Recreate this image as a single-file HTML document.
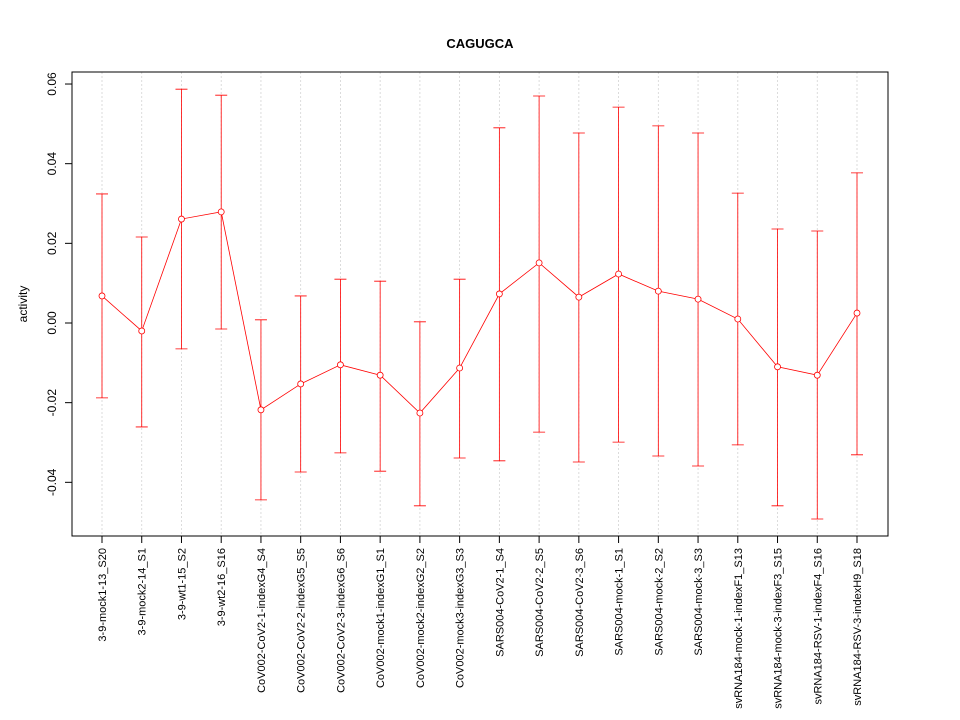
<!DOCTYPE html>
<html><head><meta charset="utf-8"><style>
body{margin:0;background:#fff;}
svg{display:block;font-family:"Liberation Sans",Arial,sans-serif;}
</style></head><body>
<svg id="chart" width="960" height="720">
<rect width="960" height="720" fill="#fff"/>
<text x="480" y="48" text-anchor="middle" font-weight="bold" font-size="13">CAGUGCA</text>
<text transform="translate(27,304) rotate(-90)" text-anchor="middle" font-size="12">activity</text>
<g id="grid"></g><g id="marks"></g><g id="axes"></g>
<rect x="72" y="72" width="816" height="464" fill="none" stroke="#000"/>
</svg>
<script>
const categories=["3-9-mock1-13_S20","3-9-mock2-14_S1","3-9-wt1-15_S2","3-9-wt2-16_S16","CoV002-CoV2-1-indexG4_S4","CoV002-CoV2-2-indexG5_S5","CoV002-CoV2-3-indexG6_S6","CoV002-mock1-indexG1_S1","CoV002-mock2-indexG2_S2","CoV002-mock3-indexG3_S3","SARS004-CoV2-1_S4","SARS004-CoV2-2_S5","SARS004-CoV2-3_S6","SARS004-mock-1_S1","SARS004-mock-2_S2","SARS004-mock-3_S3","svRNA184-mock-1-indexF1_S13","svRNA184-mock-3-indexF3_S15","svRNA184-RSV-1-indexF4_S16","svRNA184-RSV-3-indexH9_S18"];
const means=[0.0068,-0.002,0.0261,0.0279,-0.0218,-0.0153,-0.0105,-0.0131,-0.0226,-0.0113,0.0073,0.0151,0.0065,0.0123,0.0080,0.0060,0.0010,-0.0110,-0.0131,0.0025];
const upper=[0.0324,0.0216,0.0587,0.0572,0.0008,0.0068,0.0110,0.0105,0.0003,0.0110,0.0490,0.0570,0.0477,0.0542,0.0495,0.0477,0.0326,0.0236,0.0231,0.0377];
const lower=[-0.0188,-0.0261,-0.0065,-0.0015,-0.0444,-0.0374,-0.0326,-0.0372,-0.0459,-0.0339,-0.0346,-0.0274,-0.0349,-0.0299,-0.0334,-0.0359,-0.0306,-0.0459,-0.0492,-0.0331];
const yTicks=[-0.04,-0.02,0.00,0.02,0.04,0.06];
const yTickLabels=["-0.04","-0.02","0.00","0.02","0.04","0.06"];
const NS="http://www.w3.org/2000/svg";
function xS(i){return 102+i*(857-102)/(categories.length-1);}
function yS(v){return 323-v*3983;}
function mk(tag,attrs,parent){const e=document.createElementNS(NS,tag);for(const k in attrs)e.setAttribute(k,attrs[k]);document.getElementById(parent).appendChild(e);return e;}
categories.forEach((c,i)=>{
  const x=xS(i);
  const g=mk("line",{x1:x,x2:x,y1:72,y2:536,stroke:"#d3d3d3","stroke-width":"0.8","stroke-dasharray":"2,2"},"grid");
  
  
  const t=mk("line",{x1:x,x2:x,y1:536,y2:543,stroke:"#000"},"axes");
  
  
  const l=mk("text",{transform:`translate(${x+4},548) rotate(-90)`,"text-anchor":"end","font-size":"11"},"axes");
  l.textContent=c;
  
  
  const eb=mk("path",{d:`M${x},${yS(upper[i])}V${yS(lower[i])}M${x-6},${yS(upper[i])}H${x+6}M${x-6},${yS(lower[i])}H${x+6}`,stroke:"#f00","stroke-width":"0.8",fill:"none"},"marks");
  
  
});
const line=mk("polyline",{points:means.map((m,i)=>xS(i)+","+yS(m)).join(" "),fill:"none",stroke:"#f00","stroke-width":"0.8"},"marks");


means.forEach((m,i)=>{
  const p=mk("circle",{cx:xS(i),cy:yS(m),r:3,fill:"#fff",stroke:"#f00","stroke-width":"0.8"},"marks");
  
  
});
mk("line",{x1:72,x2:72,y1:yS(yTicks[0]),y2:yS(yTicks[yTicks.length-1]),stroke:"#000"},"axes");
yTicks.forEach((v,i)=>{
  const y=yS(v);
  const t=mk("line",{x1:65,x2:72,y1:y,y2:y,stroke:"#000"},"axes");
  
  
  const l=mk("text",{transform:`translate(56,${y}) rotate(-90)`,"text-anchor":"middle","font-size":"12"},"axes");
  l.textContent=yTickLabels[i];
  
  
});
</script>
</body></html>
